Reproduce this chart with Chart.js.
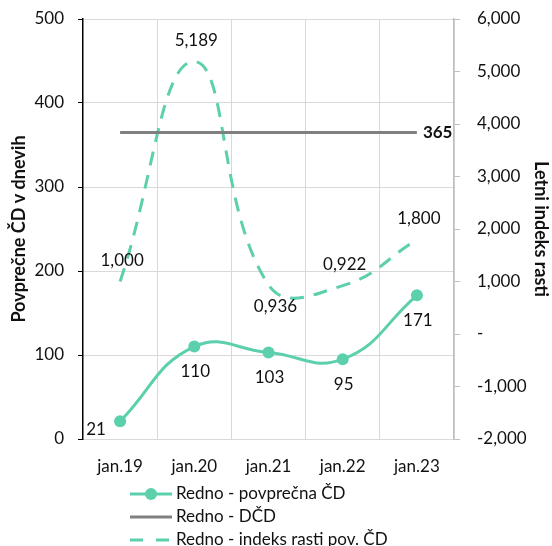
<!DOCTYPE html>
<html>
<head>
<meta charset="utf-8">
<script src="https://cdn.jsdelivr.net/npm/chart.js@4/dist/chart.umd.min.js"></script>
<style>
  html, body { margin: 0; padding: 0; background: #fff; }
  #wrap { width: 552px; height: 546px; position: relative; }
</style>
</head>
<body>
<div id="wrap"><canvas id="c"></canvas></div>
<script>
// Categories and series
const categories = ['jan.19', 'jan.20', 'jan.21', 'jan.22', 'jan.23'];
const avgDays = [21, 110, 103, 95, 171];            // Redno - povprečna ČD
const dcdDays = [365, 365, 365, 365, 365];          // Redno - DČD
const growthIndex = [1.000, 5.189, 0.936, 0.922, 1.800]; // Redno - indeks rasti pov. ČD

const seriesNames = ['Redno - povprečna ČD', 'Redno - DČD', 'Redno - indeks rasti pov. ČD'];

const TEAL = '#5ccfac';
const GREY = '#808080';
const TEXT = '#111';
const FONT = 'Lato';
const FS = 17;

// Slovenian number format with three decimals; zero shown as a dash
function fmt3(v) {
  if (Math.abs(v) < 1e-9) return '-';
  return v.toFixed(3).replace('.', ',');
}

// Value labels, placed relative to each point
const labelPlugin = {
  id: 'valueLabels',
  afterDatasetsDraw(chart) {
    const ctx = chart.ctx;
    ctx.save();
    ctx.fillStyle = TEXT;
    ctx.textBaseline = 'middle';
    ctx.textAlign = 'center';
    ctx.font = FS + 'px ' + FONT;

    // average days: first label left of the point, others below
    const m0 = chart.getDatasetMeta(0).data;
    m0.forEach((pt, i) => {
      if (i === 0) ctx.fillText(String(avgDays[i]), pt.x - 24, pt.y + 8);
      else ctx.fillText(String(avgDays[i]), pt.x + 1, pt.y + 25);
    });

    // growth index: above, except the third one below
    const m2 = chart.getDatasetMeta(2).data;
    m2.forEach((pt, i) => {
      const t = fmt3(growthIndex[i]);
      if (i === 2) ctx.fillText(t, pt.x + 7, pt.y + 22);
      else ctx.fillText(t, pt.x + 2, pt.y - 21);
    });

    // DČD value at the end of the line
    const m1 = chart.getDatasetMeta(1).data;
    const last = m1[m1.length - 1];
    ctx.font = 'bold ' + FS + 'px ' + FONT;
    ctx.textAlign = 'left';
    ctx.fillText(String(dcdDays[dcdDays.length - 1]), last.x + 6, last.y);
    ctx.restore();
  }
};

// Vertical legend under the axis
const legendPlugin = {
  id: 'stackedLegend',
  afterDraw(chart) {
    const ctx = chart.ctx;
    const x0 = 130, x1 = 172, rowY = [494, 517, 540];
    ctx.save();
    chart.data.datasets.forEach((ds, i) => {
      const y = rowY[i];
      ctx.strokeStyle = ds.borderColor;
      ctx.lineWidth = 3;
      ctx.setLineDash(ds.borderDash ? [13, 13] : []);
      ctx.beginPath();
      ctx.moveTo(x0, y);
      ctx.lineTo(x1, y);
      ctx.stroke();
      ctx.setLineDash([]);
      if (ds.pointRadius > 0) {
        ctx.fillStyle = ds.borderColor;
        ctx.beginPath();
        ctx.arc((x0 + x1) / 2, y, 6, 0, Math.PI * 2);
        ctx.fill();
      }
      ctx.fillStyle = TEXT;
      ctx.font = FS + 'px ' + FONT;
      ctx.textAlign = 'left';
      ctx.textBaseline = 'middle';
      ctx.fillText(ds.label, x1 + 4, y);
    });
    ctx.restore();
  }
};

// Fixed axis sizes; edge padding comes from the layout only
function fixWidth(w) {
  return function (s) { s.width = w; s.paddingTop = 0; s.paddingBottom = 0; };
}

new Chart(document.getElementById('c'), {
  type: 'line',
  data: {
    labels: categories,
    datasets: [
      {
        label: seriesNames[0],
        data: avgDays,
        yAxisID: 'y',
        borderColor: TEAL,
        backgroundColor: TEAL,
        borderWidth: 3,
        pointRadius: 6,
        pointHoverRadius: 6,
        pointBackgroundColor: TEAL,
        pointBorderWidth: 0,
        tension: 0.45,
        order: 1
      },
      {
        label: seriesNames[1],
        data: dcdDays,
        yAxisID: 'y',
        borderColor: GREY,
        backgroundColor: GREY,
        borderWidth: 3,
        pointRadius: 0,
        tension: 0,
        order: 2
      },
      {
        label: seriesNames[2],
        data: growthIndex,
        yAxisID: 'y1',
        borderColor: TEAL,
        backgroundColor: TEAL,
        borderWidth: 3,
        borderDash: [14, 10],
        pointRadius: 0,
        tension: 0.45,
        order: 3
      }
    ]
  },
  options: {
    responsive: true,
    maintainAspectRatio: false,
    animation: false,
    layout: { padding: { top: 19, bottom: 71, left: 0, right: 0 } },
    plugins: {
      legend: { display: false },
      tooltip: { enabled: false }
    },
    scales: {
      x: {
        offset: true,
        grid: { offset: true, color: '#d9d9d9', drawTicks: false, lineWidth: 1 },
        border: { color: '#d9d9d9' },
        ticks: { color: TEXT, font: { family: FONT, size: FS }, padding: 17, maxRotation: 0 },
        afterFit(s) { s.height = 36; s.paddingLeft = 0; s.paddingRight = 0; }
      },
      y: {
        position: 'left',
        min: 0, max: 500,
        ticks: { stepSize: 100, color: TEXT, font: { family: FONT, size: FS }, padding: 14 },
        grid: { color: '#d9d9d9', tickColor: '#000', tickLength: 5 },
        border: { color: '#000', width: 1.5 },
        title: { display: true, text: 'Povprečne ČD v dnevih', color: TEXT, font: { family: FONT, size: 18, weight: 'bold' }, padding: { top: 8, bottom: 0 } },
        afterFit: fixWidth(83)
      },
      y1: {
        position: 'right',
        min: -2, max: 6,
        ticks: { stepSize: 1, color: TEXT, font: { family: FONT, size: FS }, padding: 17, callback: v => fmt3(v) },
        grid: { drawOnChartArea: false, tickColor: '#bfbfbf', tickLength: 6 },
        border: { color: '#bfbfbf', width: 1.5 },
        title: { display: true, text: 'Letni indeks rasti', color: TEXT, font: { family: FONT, size: 18, weight: 'bold' }, padding: { top: 0, bottom: 2 } },
        afterFit: fixWidth(98)
      }
    }
  },
  plugins: [labelPlugin, legendPlugin]
});
</script>
</body>
</html>
